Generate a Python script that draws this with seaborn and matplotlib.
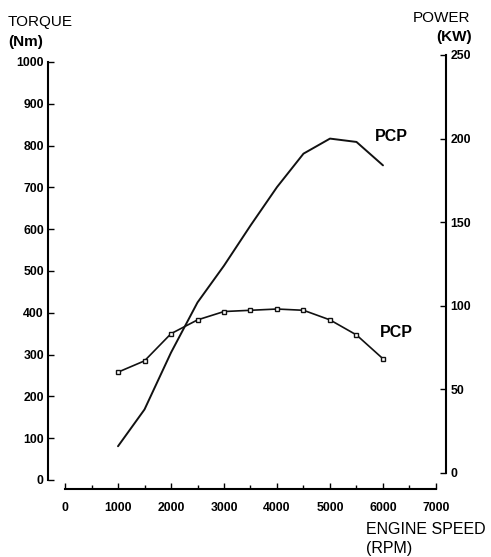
import matplotlib
matplotlib.use("Agg")
import matplotlib.pyplot as plt
import pandas as pd
import seaborn as sns
from matplotlib.ticker import MultipleLocator

# Engine performance curves
rpm = [1000, 1500, 2000, 2500, 3000, 3500, 4000, 4500, 5000, 5500, 6000]
torque_nm = [258, 285, 350, 383, 403, 406, 409, 406, 383, 347, 290]
power_kw = [16, 38, 72, 102, 124, 148, 171, 191, 200, 198, 184]

torque_ticks = [0, 100, 200, 300, 400, 500, 600, 700, 800, 900, 1000]
power_ticks = [0, 50, 100, 150, 200, 250]
rpm_ticks = [0, 1000, 2000, 3000, 4000, 5000, 6000, 7000]

sns.set_theme(style="white", rc={
    "axes.edgecolor": "black",
    "xtick.color": "black",
    "ytick.color": "black",
    "text.color": "black",
})
plt.rcParams["font.family"] = ["Liberation Sans", "DejaVu Sans"]

W, H = 491, 557
fig = plt.figure(figsize=(W / 100, H / 100), dpi=100)
ax = fig.add_axes([48 / W, (H - 480) / H, 398 / W, 425 / H])
ax2 = ax.twinx()

df = pd.DataFrame({"rpm": rpm, "torque": torque_nm, "power": power_kw})

sns.lineplot(data=df, x="rpm", y="torque", ax=ax, color="#111111", lw=1.2,
             marker="s", markersize=3.3, markerfacecolor="white",
             markeredgecolor="#111111", markeredgewidth=1.0)
sns.lineplot(data=df, x="rpm", y="power", ax=ax2, color="#111111", lw=1.4)

ax.set_xlim(-321, 7189)
ax.set_ylim(0, 1016.7)
ax2.set_ylim(-4.19, 250)

for a in (ax, ax2):
    a.set_xlabel("")
    a.set_ylabel("")
    a.grid(False)

# spines
ax.spines["top"].set_visible(False)
ax.spines["right"].set_visible(False)
ax.spines["left"].set_bounds(0, 1000)
ax.spines["left"].set_linewidth(1.5)
ax.spines["bottom"].set_position(("outward", 6.5))
ax.spines["bottom"].set_bounds(0, 7000)
ax.spines["bottom"].set_linewidth(1.5)
for s in ("top", "left", "bottom"):
    ax2.spines[s].set_visible(False)
ax2.spines["right"].set_bounds(0, 250)
ax2.spines["right"].set_linewidth(1.5)

# ticks
ax.set_yticks(torque_ticks)
ax.set_xticks(rpm_ticks)
ax.xaxis.set_minor_locator(MultipleLocator(500))
ax2.set_yticks(power_ticks)

lab = dict(labelsize=8.8)
ax.tick_params(axis="y", which="major", left=True, direction="in", length=4,
               width=1, pad=3, **lab)
ax.tick_params(axis="x", which="major", bottom=True, direction="in", length=4,
               width=1, pad=9, **lab)
ax.tick_params(axis="x", which="minor", bottom=True, direction="in", length=3,
               width=1)
ax2.tick_params(axis="y", which="major", right=True, direction="in", length=4,
                width=1, pad=3, **lab)
for t in ax.get_xticklabels() + ax.get_yticklabels() + ax2.get_yticklabels():
    t.set_fontweight("bold")

# curve labels
ax2.text(6150, 201, "PCP", fontsize=11.5, fontweight="bold",
         ha="center", va="center")
ax.text(6245, 352, "PCP", fontsize=11.5, fontweight="bold",
        ha="center", va="center")

# axis titles
fig.text(8 / W, (H - 22) / H, "TORQUE", fontsize=11, ha="left", va="center")
fig.text(8 / W, (H - 42) / H, "(Nm)", fontsize=11, fontweight="bold",
         ha="left", va="center")
fig.text(470 / W, (H - 18) / H, "POWER", fontsize=11, ha="right", va="center")
fig.text(472 / W, (H - 37.5) / H, "(KW)", fontsize=11, fontweight="bold",
         ha="right", va="center")
fig.text(366 / W, (H - 530) / H, "ENGINE SPEED", fontsize=11.5,
         ha="left", va="center")
fig.text(366 / W, (H - 549) / H, "(RPM)", fontsize=11.5,
         ha="left", va="center")

fig.savefig("out.png", dpi=100, facecolor="white")
